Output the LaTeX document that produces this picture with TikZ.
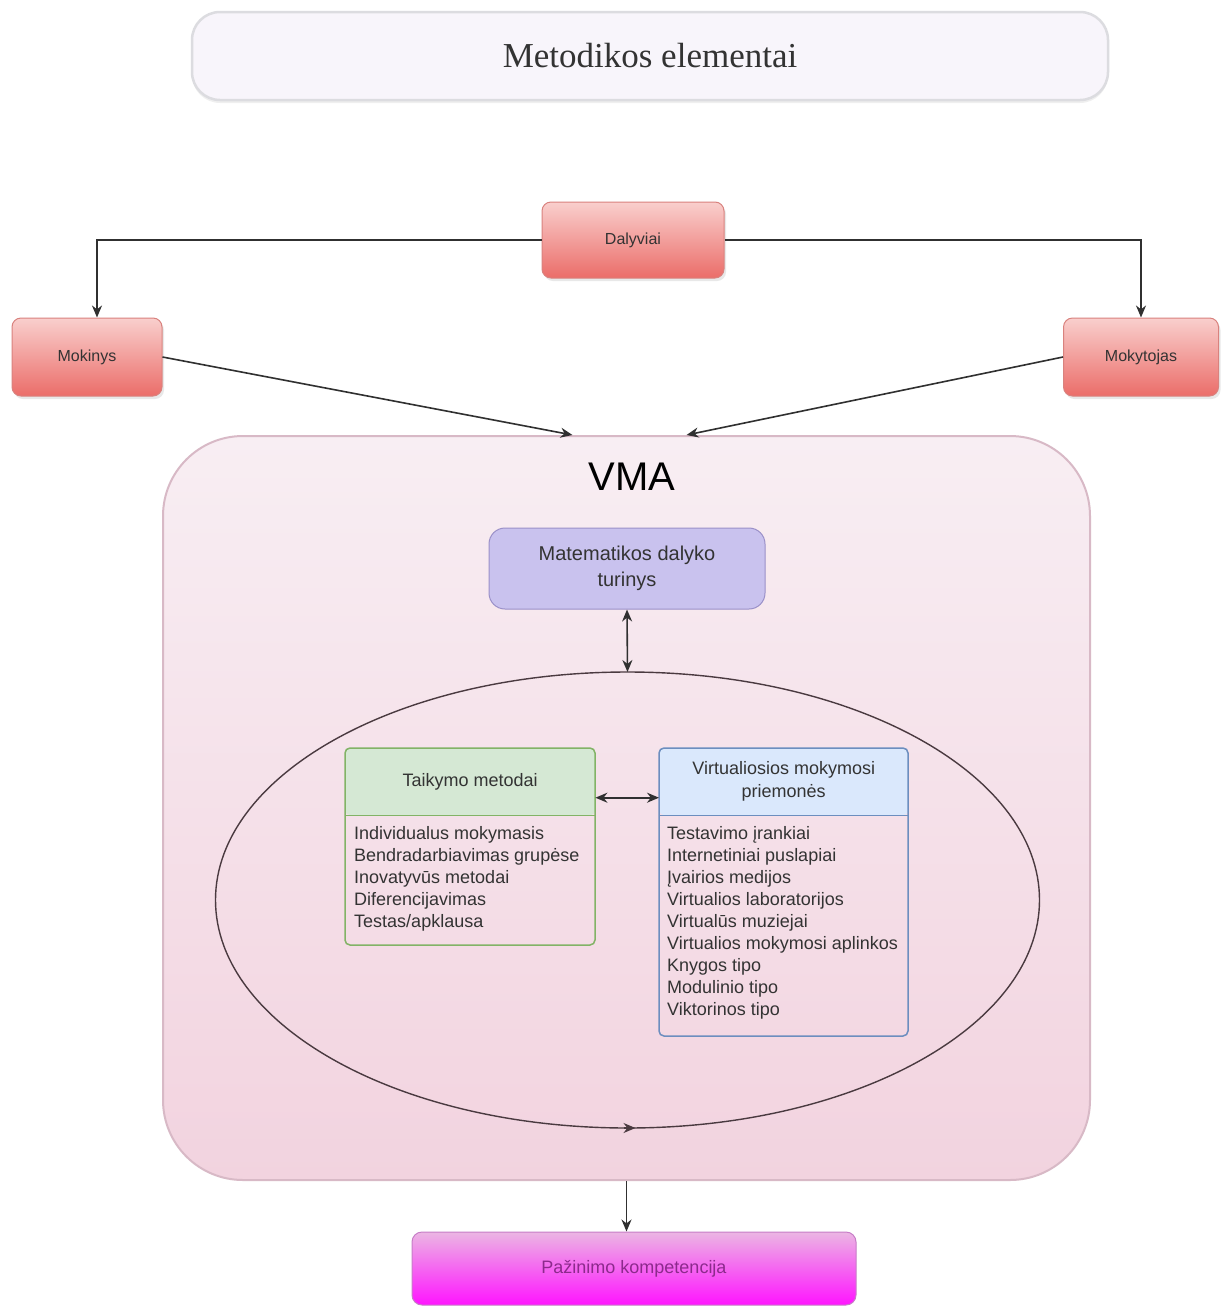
\documentclass[tikz,border=0pt]{standalone}
\usepackage{fontspec}
\setmainfont{Liberation Sans}
\newfontfamily\titlefont{Liberation Serif}
\usetikzlibrary{arrows.meta,shapes.geometric,shadows}

\definecolor{txt}{HTML}{333333}
\definecolor{lineclr}{HTML}{303030}
\definecolor{redtop}{HTML}{F9CFCD}
\definecolor{redbot}{HTML}{EB6D69}
\definecolor{redline}{HTML}{D9827E}
\definecolor{ttlfill}{HTML}{F8F5FB}
\definecolor{ttlline}{HTML}{DCDCE0}
\definecolor{vmatop}{HTML}{F8EEF3}
\definecolor{vmabot}{HTML}{F2D3DF}
\definecolor{vmaline}{HTML}{D8B9C6}
\definecolor{matfill}{HTML}{C9C2EE}
\definecolor{matline}{HTML}{9A90C8}
\definecolor{grnfill}{HTML}{D5E8D4}
\definecolor{grnline}{HTML}{82B366}
\definecolor{blufill}{HTML}{DAE8FC}
\definecolor{bluline}{HTML}{6C8EBF}
\definecolor{paztop}{HTML}{EBB6E3}
\definecolor{pazbot}{HTML}{FF14FF}
\definecolor{pazline}{HTML}{C77DC7}
\definecolor{paztxt}{HTML}{8C2A8C}
\definecolor{ellline}{HTML}{4A3A40}

\begin{document}
\begin{tikzpicture}[x=1pt,y=-1pt,
  conn/.style={draw=lineclr, line width=1.6pt, -{Stealth[length=12pt,width=10pt]}},
  dconn/.style={draw=lineclr, line width=1.6pt, {Stealth[length=12pt,width=10pt]}-{Stealth[length=12pt,width=10pt]}},
  titlebox/.style={rectangle, rounded corners=28pt, fill=ttlfill, draw=ttlline, line width=2.5pt,
    minimum width=916pt, minimum height=88pt, inner sep=0pt,
    font=\titlefont\fontsize{35}{40}\selectfont, text=txt,
    drop shadow={opacity=0.12, shadow xshift=0pt, shadow yshift=-3pt}},
  redbox/.style={rectangle, rounded corners=9pt, draw=redline, line width=1pt,
    top color=redtop, bottom color=redbot, minimum height=78pt, inner sep=0pt,
    font=\fontsize{16}{20}\selectfont, text=txt,
    drop shadow={opacity=0.18, shadow xshift=2pt, shadow yshift=-3pt}},
  vmabox/.style={rectangle, rounded corners=80pt, draw=vmaline, line width=2pt,
    top color=vmatop, bottom color=vmabot, minimum width=927pt, minimum height=744pt, inner sep=0pt},
  matbox/.style={rectangle, rounded corners=16pt, draw=matline, line width=1pt, fill=matfill,
    minimum width=276pt, minimum height=81pt, inner sep=0pt, align=center,
    font=\fontsize{20}{26}\selectfont, text=txt},
  hdr/.style={rectangle, rounded corners=5pt, minimum height=67pt, inner sep=0pt, align=center,
    font=\fontsize{18}{23}\selectfont, text=txt},
  items/.style={inner sep=0pt, align=left, font=\fontsize{18}{22}\selectfont, text=txt},
  pazbox/.style={rectangle, rounded corners=10pt, draw=pazline, line width=1pt,
    top color=paztop, bottom color=pazbot, minimum width=444pt, minimum height=73pt, inner sep=0pt,
    font=\fontsize{18}{22}\selectfont, text=paztxt}
]
\useasboundingbox[fill=white] (0,0) rectangle (1225,1307);

% title banner
\node[titlebox] (ttl) at (650,56) {Metodikos elementai};

% participants
\node[redbox, minimum width=182pt, minimum height=76pt] (dal) at (633,240) {Dalyviai};
\node[redbox, minimum width=150pt] (mok) at (87,357) {Mokinys};
\node[redbox, minimum width=155pt] (mkt) at (1141,357) {Mokytojas};

% VMA container
\node[vmabox] (vma) at (626.5,808) {};
\node[font=\fontsize{40}{44}\selectfont, text=black] (vmat) at (632,477) {VMA};

% subject content
\node[matbox] (mat) at (627,568.5) {Matematikos dalyko\\turinys};

% ellipse holding methods and tools
\node[ellipse, draw=ellline, line width=1.4pt, minimum width=824pt, minimum height=456pt,
      inner sep=0pt, outer sep=0pt] (ell) at (627.5,900) {};
\draw[ellline, line width=1.4pt, -{Stealth[length=12pt,width=10pt]}] ([xshift=-4pt]ell.south) -- ([xshift=8pt]ell.south);

% application methods
\node[hdr, fill=grnfill, minimum width=250pt, anchor=north west] (tmh) at (345,748) {Taikymo metodai};
\node[items, anchor=north west] (tml) at ([xshift=9pt,yshift=-11pt]tmh.south west)
  {Individualus mokymasis\\Bendradarbiavimas grupėse\\Inovatyvūs metodai\\Diferencijavimas\\Testas/apklausa};
\coordinate (tmse) at (595,945);
\draw[grnline, line width=1.5pt, rounded corners=5pt] (tmh.north west) rectangle (tmse);
\draw[grnline, line width=1.5pt] (tmh.south west) -- (tmh.south east);

% virtual learning tools
\node[hdr, fill=blufill, minimum width=249pt, anchor=north west] (vmh) at (659,748) {Virtualiosios mokymosi\\priemonės};
\node[items, anchor=north west] (vml) at ([xshift=8pt,yshift=-11pt]vmh.south west)
  {Testavimo įrankiai\\Internetiniai puslapiai\\Įvairios medijos\\Virtualios laboratorijos\\Virtualūs muziejai\\Virtualios mokymosi aplinkos\\Knygos tipo\\Modulinio tipo\\Viktorinos tipo};
\coordinate (vmse) at (908,1036);
\draw[bluline, line width=1.5pt, rounded corners=5pt] (vmh.north west) rectangle (vmse);
\draw[bluline, line width=1.5pt] (vmh.south west) -- (vmh.south east);

% outcome
\node[pazbox] (paz) at (634,1268.5) {Pažinimo kompetencija};

% connectors
\draw[conn] (dal.west) -| ([xshift=10pt]mok.north);
\draw[conn] (dal.east) -| (mkt.north);
\draw[conn] (mok.east) -- ([xshift=-54pt]vma.north);
\draw[conn] (mkt.west) -- ([xshift=60pt]vma.north);
\draw[dconn] (mat.south) -- (ell.north);
\draw[dconn] ([yshift=-16pt]tmh.east) -- ([yshift=-16pt]vmh.west);
\draw[conn] (vma.south) -- (vma.south |- paz.north);
\end{tikzpicture}
\end{document}
